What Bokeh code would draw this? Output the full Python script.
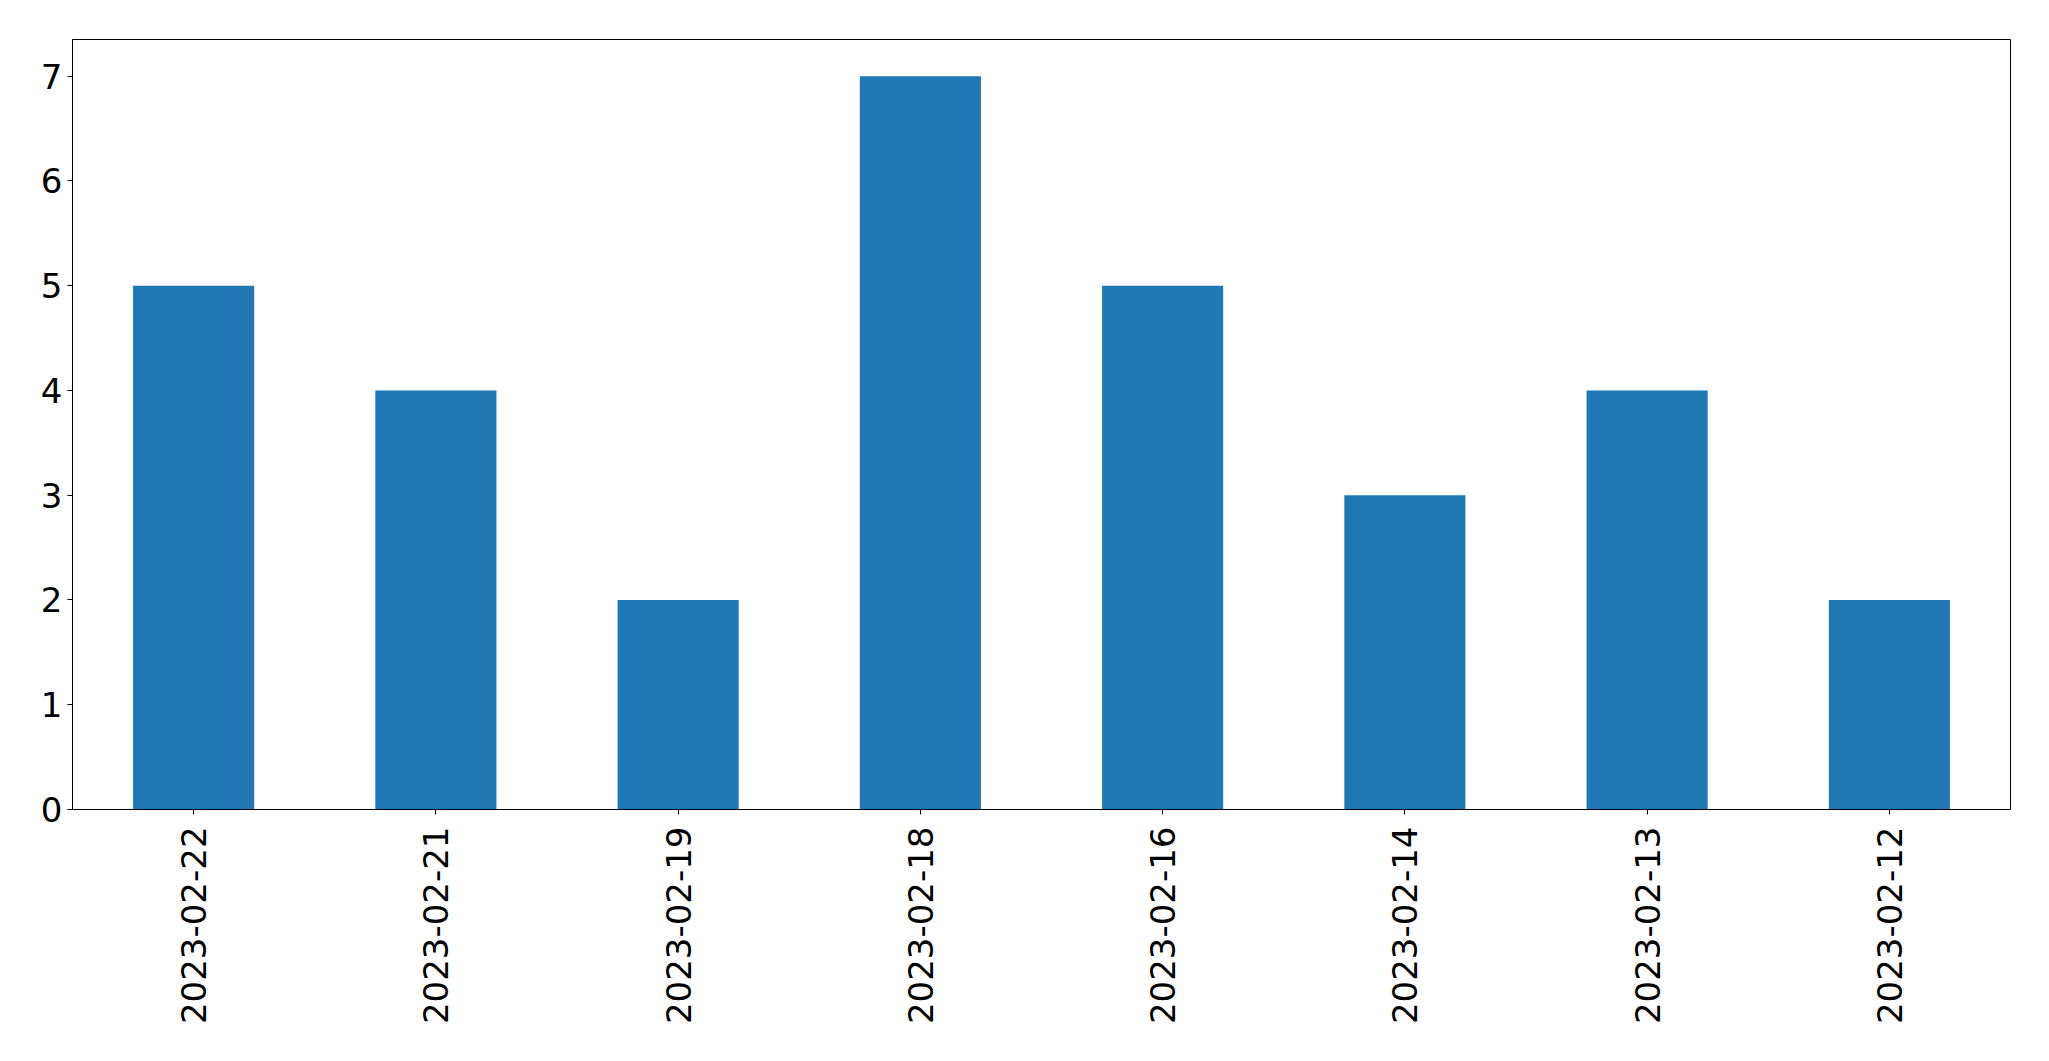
import math
from bokeh.plotting import figure
from bokeh.models import FactorRange, Range1d, FixedTicker
from bokeh.embed import file_html
from bokeh.resources import INLINE

dates = ["2023-02-22", "2023-02-21", "2023-02-19", "2023-02-18",
         "2023-02-16", "2023-02-14", "2023-02-13", "2023-02-12"]
counts = [5, 4, 2, 7, 5, 3, 4, 2]
y_ticks = [0, 1, 2, 3, 4, 5, 6, 7]

p = figure(width=2041, height=1053,
           x_range=FactorRange(factors=dates, range_padding=0),
           y_range=Range1d(0, 7.35),
           output_backend="svg", toolbar_location=None,
           min_border_left=72, min_border_right=31,
           min_border_top=39, min_border_bottom=244)

p.vbar(x=dates, top=counts, width=0.5, color="#1f77b4", line_color=None)

p.xgrid.visible = False
p.ygrid.visible = False
p.outline_line_color = "black"
p.outline_line_width = 1
p.outline_line_alpha = 1

for ax in (p.xaxis[0], p.yaxis[0]):
    ax.axis_line_color = "black"
    ax.major_tick_line_color = "black"
    ax.major_tick_out = 5
    ax.major_tick_in = 0
    ax.minor_tick_line_color = None
    ax.major_label_text_font = "DejaVu Sans"
    ax.major_label_text_font_size = "34px"
    ax.major_label_text_color = "black"
    ax.major_label_standoff = 5

p.yaxis[0].ticker = FixedTicker(ticks=y_ticks)
p.xaxis[0].major_label_orientation = math.pi / 2
p.xaxis[0].major_label_standoff = 12
p.xaxis[0].group_text_font_size = "0px"

open("out.html", "w").write(file_html(p, INLINE))
